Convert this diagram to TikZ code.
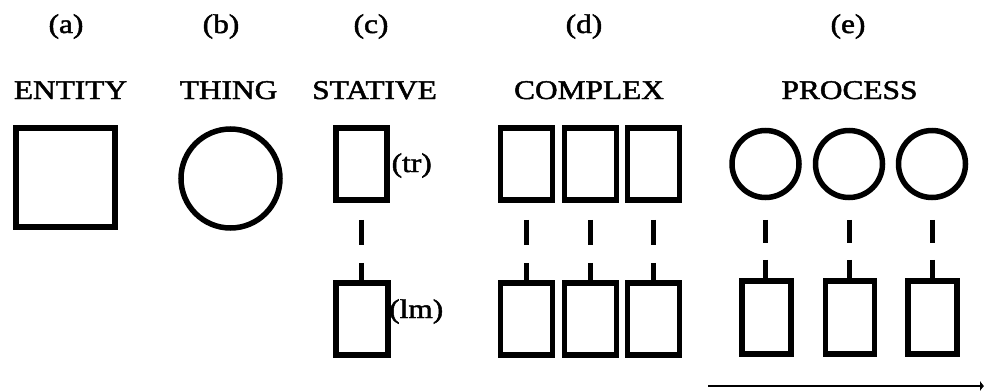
\documentclass[tikz,border=0pt]{standalone}
\usepackage{fontspec}
\setmainfont{Liberation Serif}[RawFeature={embolden=1.6}]
\usetikzlibrary{arrows.meta}
\newcommand{\wtxt}[1]{\scalebox{1.22}[1.05]{#1}}
\begin{document}
\begin{tikzpicture}[x=1pt,y=-1pt,
  lbl/.style={font=\fontsize{25.7}{30}\selectfont, inner sep=0pt, anchor=base},
  side/.style={font=\fontsize{25.7}{30}\selectfont, inner sep=0pt, anchor=base west},
  box/.style={draw, line width=5.5pt, minimum width=#1, minimum height=72pt, inner sep=0pt},
  box/.default=51pt,
  ring/.style={draw, circle, line width=5.5pt, minimum size=#1, inner sep=0pt},
  link/.style={line width=5pt},
]
\useasboundingbox (0,0) rectangle (984,391);
% headings
\node[lbl] (la) at (66,33) {\wtxt{(a)}};
\node[lbl] (lb) at (221,33) {\wtxt{(b)}};
\node[lbl] (lc) at (371,33) {\wtxt{(c)}};
\node[lbl] (ld) at (584,33) {\wtxt{(d)}};
\node[lbl] (le) at (848,33) {\wtxt{(e)}};
\node[lbl] (ta) at (70.5,99) {\wtxt{ENTITY}};
\node[lbl] (tb) at (228.5,99) {\wtxt{THING}};
\node[lbl] (tc) at (374.5,99) {\wtxt{STATIVE}};
\node[lbl] (td) at (589,99) {\wtxt{COMPLEX}};
\node[lbl] (te) at (849.5,99) {\wtxt{PROCESS}};
% (a) entity
\node[box=99pt, minimum height=99pt] (ent) at (65.5,177.5) {};
% (b) thing
\node[ring=99pt] (thg) at (230.5,178.5) {};
% (c) stative
\node[box] (ctr) at (361.5,164) {};
\node[box=52pt] (clm) at (362,319) {};
\node[side] (ltr) at (391.5,172) {\wtxt{(tr)}};
\node[side] (llm) at (389,318) {\wtxt{(lm)}};
\draw[link, dash pattern=on 0pt off 17pt on 25pt off 18pt on 60pt] (ctr.south) -- (ctr.south |- clm.north);
% (d) complex
\foreach \i/\x in {1/526.5,2/590.5,3/653.5}{
  \node[box=52pt] (dt\i) at (\x,164) {};
  \node[box=52pt] (db\i) at (\x,319) {};
  \draw[link, dash pattern=on 0pt off 17pt on 25pt off 18pt on 60pt] (dt\i.south) -- (dt\i.south |- db\i.north);
}
% (e) process
\foreach \i/\x/\y in {1/765.5/766.5,2/849/850,3/932/932.5}{
  \node[ring=67pt] (ec\i) at (\x,164) {};
  \node[box=49pt, minimum height=73pt] (eb\i) at (\y,317.5) {};
  \draw[link, dash pattern=on 0pt off 19.5pt on 23pt off 17pt on 60pt] (ec\i.south) -- (ec\i.south |- eb\i.north);
}
\coordinate (ts) at (708,386);
\coordinate (te2) at (984,386);
\draw[line width=2.8pt, -{Latex[length=4pt,width=11pt]}] (ts) -- (te2);
\end{tikzpicture}
\end{document}
